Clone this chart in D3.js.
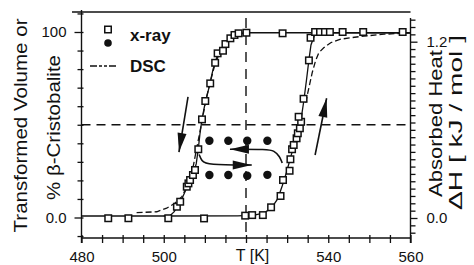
<!DOCTYPE html>
<html>
<head>
<meta charset="utf-8">
<script src="https://cdn.jsdelivr.net/npm/d3@7"></script>
<style>
  body { margin: 0; background: #fff; }
  svg { display: block; font-family: "Liberation Sans", Arial, sans-serif; }
  .axis path { display: none; }
  .axis line { stroke: #111; stroke-width: 1.3; }
  .axis text { fill: #111; font-size: 15px; }
</style>
</head>
<body>
<div id="chart"></div>
<script>
// x-ray squares, cooling run [T K, % beta]
var coolSquares = [
  [486.5, -0.4], [491.4, -0.4], [501.1, -0.4], [503.2, 5.8], [504.0, 8.5],
  [505.6, 16.6], [506.0, 18.4], [506.4, 20.2], [507.1, 22.9], [507.6, 25.6],
  [508.4, 36.8], [509.3, 52.9], [510.1, 62.8], [511.3, 72.3], [512.5, 83.4],
  [513.1, 88.5], [514.4, 89.9], [515.0, 93.5], [516.2, 96.6], [517.2, 98.4],
  [518.2, 99.3], [520.1, 99.6], [528.9, 99.3]
];
// x-ray squares, heating run
var heatSquares = [
  [509.8, -0.5], [519.8, 1.0], [521.5, 1.3], [524.1, 1.3], [526.1, 5.5],
  [528.4, 11.6], [529.0, 20.2], [530.6, 25.2], [530.8, 31.4], [531.2, 36.8],
  [531.6, 39.1], [532.3, 42.7], [532.6, 45.4], [533.1, 48.1], [533.4, 51.6],
  [532.8, 54.3], [534.0, 64.0], [535.3, 84.7], [535.7, 96.9], [536.8, 100],
  [538.0, 100], [539.2, 100], [540.4, 100], [543.5, 100], [548.5, 100], [558.1, 100]
];
// x-ray filled circles (isothermal holds)
var holdCircles = [
  [511.1, 41.4], [515.7, 41.4], [520.3, 41.4], [525.2, 41.4],
  [511.1, 22.9], [515.7, 22.9], [520.3, 22.5], [525.2, 23.0]
];
// solid x-ray curves
var coolFit = [
  [560, 99.6], [521, 99.6], [518.5, 99.3], [517, 98.2], [515.5, 95], [514, 90.5],
  [513, 87], [512, 80], [511, 70], [510, 61], [509.3, 53], [508.8, 45], [508.4, 37],
  [507.9, 29], [507.3, 24], [506.5, 20], [505.6, 16], [504.5, 10.5], [503.5, 6.5],
  [502.5, 3], [501.5, 1], [500, 0.8]
];
var heatFit = [
  [480, 0.8], [500, 0.8], [518, 0.9], [522, 1.3], [524.5, 2.5], [526.3, 5.5],
  [527.7, 10], [528.8, 17], [529.8, 24], [530.8, 32], [531.8, 40], [532.7, 47],
  [533.4, 53], [534, 62], [534.7, 74], [535.3, 85], [535.8, 93], [536.6, 98],
  [538, 99.6], [560, 99.6]
];
// DSC curves (right axis converted to % scale)
var dscCool = [
  [493.4, 2.6], [498.3, 3.1], [500.7, 5], [502.7, 7.7], [504.4, 11.2], [505.6, 16.6],
  [506.5, 22], [507.2, 28], [507.9, 36], [508.6, 44], [509.4, 53], [510.2, 63],
  [511.3, 73], [512.5, 83], [513.8, 90], [515.5, 95.5], [517.5, 98.5], [519.5, 99.5]
];
var dscHeat = [
  [534.5, 61.9], [535.3, 70], [536.1, 78.1], [536.9, 84.4], [537.7, 88.8],
  [538.9, 91.5], [540.6, 94.2], [543, 96.1], [545.4, 96.9], [548.7, 97.8],
  [553.6, 98.8], [557.6, 99.3], [560, 99.5]
];
// annotation arrows, last point is the tip
var arrowCool = [[505.9, 65], [503.7, 35.3]];
var arrowHeat = [[536.8, 33.7], [539.6, 64.3]];
var arrowHoldRight = [[508.6, 34], [509.2, 30.5], [510.5, 28.3], [521.4, 28.3]];
var arrowHoldLeft = [[528.8, 29.4], [528.2, 33], [526.8, 36], [525.3, 36.8], [516.1, 36.8]];

var xTicks = d3.range(480, 561, 5);
var xLabels = {480: "480", 500: "500", 520: "T [K]", 540: "540", 560: "560"};
var yLeftTicks = d3.range(-10, 111, 10);
var yLeftLabels = {0: "0.0", 100: "100"};
var yRightTicks = d3.range(-2, 28).map(function (i) { return +(i * 0.05).toFixed(2); });
var yRightLabels = {0: "0.0", 1.2: "1.2"};

var W = 474, H = 265;
var plot = {left: 81.5, right: 410.5, top: 12, bottom: 238};

var svg = d3.select("#chart").append("svg")
  .attr("width", W).attr("height", H);
svg.append("rect").attr("width", W).attr("height", H).attr("fill", "#fff");

var x = d3.scaleLinear().domain([480, 560]).range([plot.left, plot.right]);
var y = d3.scaleLinear().domain([0, 100]).range([217.5, 32]);
var yR = d3.scaleLinear().domain([0, 1.2]).range([218, 41.7]);

// frame
svg.append("line").attr("x1", 72).attr("x2", plot.right).attr("y1", plot.top).attr("y2", plot.top)
  .attr("stroke", "#111").attr("stroke-width", 1.4);
svg.append("line").attr("x1", plot.left).attr("x2", plot.right).attr("y1", plot.bottom).attr("y2", plot.bottom)
  .attr("stroke", "#111").attr("stroke-width", 1.4);
svg.append("line").attr("x1", plot.left).attr("x2", plot.left).attr("y1", 10).attr("y2", plot.bottom + 5)
  .attr("stroke", "#111").attr("stroke-width", 1.4);
svg.append("line").attr("x1", plot.right).attr("x2", plot.right).attr("y1", 18).attr("y2", plot.bottom + 5)
  .attr("stroke", "#111").attr("stroke-width", 1.4);

// bottom axis (outer + inner ticks)
var gx = svg.append("g").attr("class", "axis")
  .attr("transform", "translate(0," + plot.bottom + ")")
  .call(d3.axisBottom(x).tickValues(xTicks).tickSizeInner(5).tickSizeOuter(0).tickPadding(8)
    .tickFormat(function (d) { return xLabels[d] || ""; }));
gx.selectAll("text").filter(function (d) { return d === 520; })
  .style("font-size", "16px").attr("dx", 6).attr("dy", "0.62em");
svg.append("g").attr("class", "axis")
  .attr("transform", "translate(0," + plot.bottom + ")")
  .call(d3.axisBottom(x).tickValues(xTicks).tickSize(-3).tickFormat(""));

// left axis
var gl = svg.append("g").attr("class", "axis")
  .attr("transform", "translate(" + plot.left + ",0)")
  .call(d3.axisLeft(y).tickValues(yLeftTicks).tickSizeInner(4).tickSizeOuter(0).tickPadding(11)
    .tickFormat(function (d) { return yLeftLabels[d] || ""; }));
gl.selectAll(".tick line").filter(function (d) { return d === 0 || d === 100; }).attr("x2", -7);
svg.append("g").attr("class", "axis")
  .attr("transform", "translate(" + plot.left + ",0)")
  .call(d3.axisLeft(y).tickValues(yLeftTicks).tickSize(-2).tickFormat(""));

// right axis
var gr = svg.append("g").attr("class", "axis")
  .attr("transform", "translate(" + plot.right + ",0)")
  .call(d3.axisRight(yR).tickValues(yRightTicks).tickSizeInner(5).tickSizeOuter(0).tickPadding(11)
    .tickFormat(function (d) { return yRightLabels[d] || ""; }));
gr.selectAll(".tick line").filter(function (d) { return d === 0 || d === 1.2; }).attr("x2", 7)
  .attr("stroke-width", 2);

// reference dashed lines at 50 % and 520 K
svg.append("line").attr("x1", plot.left).attr("x2", plot.right)
  .attr("y1", y(50)).attr("y2", y(50))
  .attr("stroke", "#111").attr("stroke-width", 1.4).attr("stroke-dasharray", "9,6");
svg.append("line").attr("x1", x(520)).attr("x2", x(520))
  .attr("y1", plot.top + 6).attr("y2", plot.bottom)
  .attr("stroke", "#111").attr("stroke-width", 1.4).attr("stroke-dasharray", "10,7");

var line = d3.line().x(function (d) { return x(d[0]); }).y(function (d) { return y(d[1]); });

// solid x-ray curves
[coolFit, heatFit].forEach(function (s) {
  svg.append("path").attr("d", line(s)).attr("fill", "none")
    .attr("stroke", "#111").attr("stroke-width", 1.3);
});
// dashed DSC curves
[dscCool, dscHeat].forEach(function (s) {
  svg.append("path").attr("d", line(s)).attr("fill", "none")
    .attr("stroke", "#111").attr("stroke-width", 1.3).attr("stroke-dasharray", "6,3");
});

// arrows
function arrow(pts) {
  svg.append("path").attr("d", d3.line().curve(d3.curveBasis)
      .x(function (d) { return x(d[0]); }).y(function (d) { return y(d[1]); })(pts))
    .attr("fill", "none").attr("stroke", "#111").attr("stroke-width", 1.6);
  var a = pts[pts.length - 2], b = pts[pts.length - 1];
  var ax = x(a[0]), ay = y(a[1]), bx = x(b[0]), by = y(b[1]);
  var ang = Math.atan2(by - ay, bx - ax);
  var len = 19, hw = 4.5;
  var bxp = bx - len * Math.cos(ang), byp = by - len * Math.sin(ang);
  var px = -Math.sin(ang) * hw, py = Math.cos(ang) * hw;
  svg.append("path")
    .attr("d", "M" + bx + "," + by + "L" + (bxp + px) + "," + (byp + py) +
      "L" + (bxp - px) + "," + (byp - py) + "Z")
    .attr("fill", "#111");
}
arrow(arrowCool);
arrow(arrowHeat);
arrow(arrowHoldRight);
arrow(arrowHoldLeft);

// markers
var sq = 6.5;
svg.append("g").selectAll("rect").data(coolSquares.concat(heatSquares)).join("rect")
  .attr("x", function (d) { return x(d[0]) - sq / 2; })
  .attr("y", function (d) { return y(d[1]) - sq / 2; })
  .attr("width", sq).attr("height", sq)
  .attr("fill", "#fff").attr("stroke", "#111").attr("stroke-width", 1.5);
svg.append("g").selectAll("circle").data(holdCircles).join("circle")
  .attr("cx", function (d) { return x(d[0]); })
  .attr("cy", function (d) { return y(d[1]); })
  .attr("r", 4.2).attr("fill", "#111");

// legend
svg.append("rect").attr("x", 108 - sq / 2).attr("y", 29.5 - sq / 2).attr("width", sq).attr("height", sq)
  .attr("fill", "#fff").attr("stroke", "#111").attr("stroke-width", 1.5);
svg.append("circle").attr("cx", 108).attr("cy", 43).attr("r", 3.8).attr("fill", "#111");
svg.append("line").attr("x1", 90).attr("x2", 117).attr("y1", 66).attr("y2", 66)
  .attr("stroke", "#111").attr("stroke-width", 1.3).attr("stroke-dasharray", "7,2,3,2,3,2");
svg.append("text").attr("x", 130).attr("y", 41).text("x-ray")
  .style("font-size", "17px").style("font-weight", "bold").attr("fill", "#111");
svg.append("text").attr("x", 130).attr("y", 71.5).text("DSC")
  .style("font-size", "17px").style("font-weight", "bold").attr("fill", "#111");

// axis titles
function vtitle(txt, bx, cy, len) {
  svg.append("text")
    .attr("transform", "translate(" + bx + "," + cy + ") rotate(-90)")
    .attr("text-anchor", "middle")
    .attr("textLength", len).attr("lengthAdjust", "spacingAndGlyphs")
    .style("font-size", "19px").attr("fill", "#111")
    .text(txt);
}
vtitle("Transformed Volume or", 27, 125.5, 214);
vtitle("% \u03b2-Cristobalite", 60, 127.5, 145);
vtitle("Absorbed Heat", 441.5, 123.5, 147);
vtitle("\u0394H [ kJ / mol ]", 462, 122.5, 175);
</script>
</body>
</html>
